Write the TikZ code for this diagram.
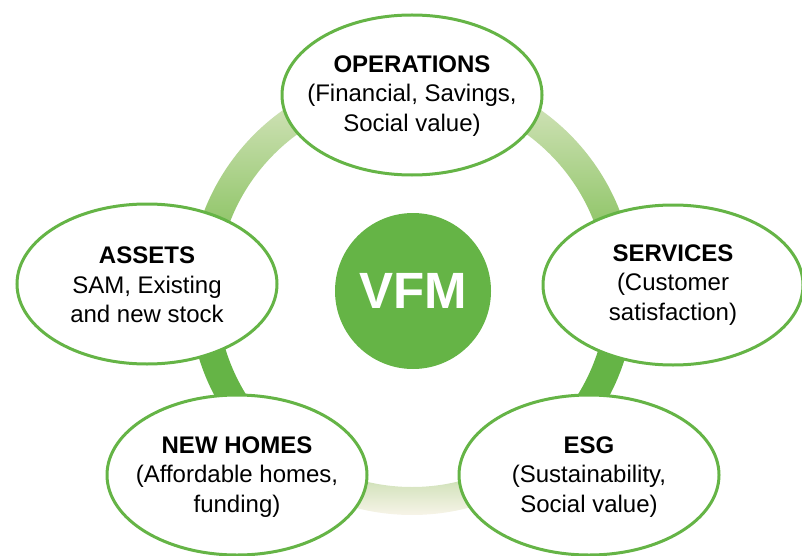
\documentclass[tikz,border=0pt]{standalone}
\usepackage{fontspec}
\setmainfont{Liberation Sans}
\usetikzlibrary{shapes.geometric}

\definecolor{vfm}{RGB}{101,180,70}
\definecolor{ringtop}{RGB}{212,229,192}
\definecolor{ringpale}{RGB}{204,224,178}
\definecolor{ringmid}{RGB}{150,200,112}
\definecolor{ringlow}{RGB}{214,228,192}
\definecolor{ringcream}{RGB}{247,244,232}

% ring colour runs bottom (0bp) to top (100bp)
\pgfdeclareverticalshading{ringfade}{100bp}{color(0bp)=(ringcream); color(25bp)=(ringcream);
  color(28.4bp)=(ringlow); color(33.4bp)=(vfm); color(49bp)=(vfm);
  color(58.6bp)=(ringmid); color(70.4bp)=(ringpale); color(75bp)=(ringtop); color(100bp)=(ringtop)}

\begin{document}
\begin{tikzpicture}[x=1pt, y=-1pt,
    area/.style={ellipse, draw=vfm, line width=3pt, fill=white, inner sep=0pt,
      minimum width=260pt, minimum height=160pt},
    areatext/.style={align=center, text=black, font=\fontsize{24}{29.5}\selectfont}]
    \useasboundingbox (0,0) rectangle (802,556);

    \coordinate (c) at (412,292);
    \shade[shading=ringfade, even odd rule] (c) circle (223pt) (c) circle (195pt);

    \node[circle, fill=vfm, minimum size=156pt, text=white,
      font=\bfseries\fontsize{51}{60}\selectfont] (vfm) at (413,291) {VFM};

    \node[area] (ops) at (412,95) {};
    \node[area] (assets) at (147,284) {};
    \node[area] (services) at (673,285) {};
    \node[area] (homes) at (237,475) {};
    \node[area] (esg) at (589,475) {};

    \node[areatext] (ops text) at (412,96) {\textbf{OPERATIONS}\\(Financial, Savings,\\Social value)};
    \node[areatext] (assets text) at (147,285) {\textbf{ASSETS}\\SAM, Existing\\and new stock};
    \node[areatext] (services text) at (673,285) {\textbf{SERVICES}\\(Customer\\satisfaction)};
    \node[areatext] (homes text) at (237,477) {\textbf{NEW HOMES}\\(Affordable homes,\\funding)};
    \node[areatext] (esg text) at (589,477) {\textbf{ESG}\\(Sustainability,\\Social value)};
\end{tikzpicture}
\end{document}
